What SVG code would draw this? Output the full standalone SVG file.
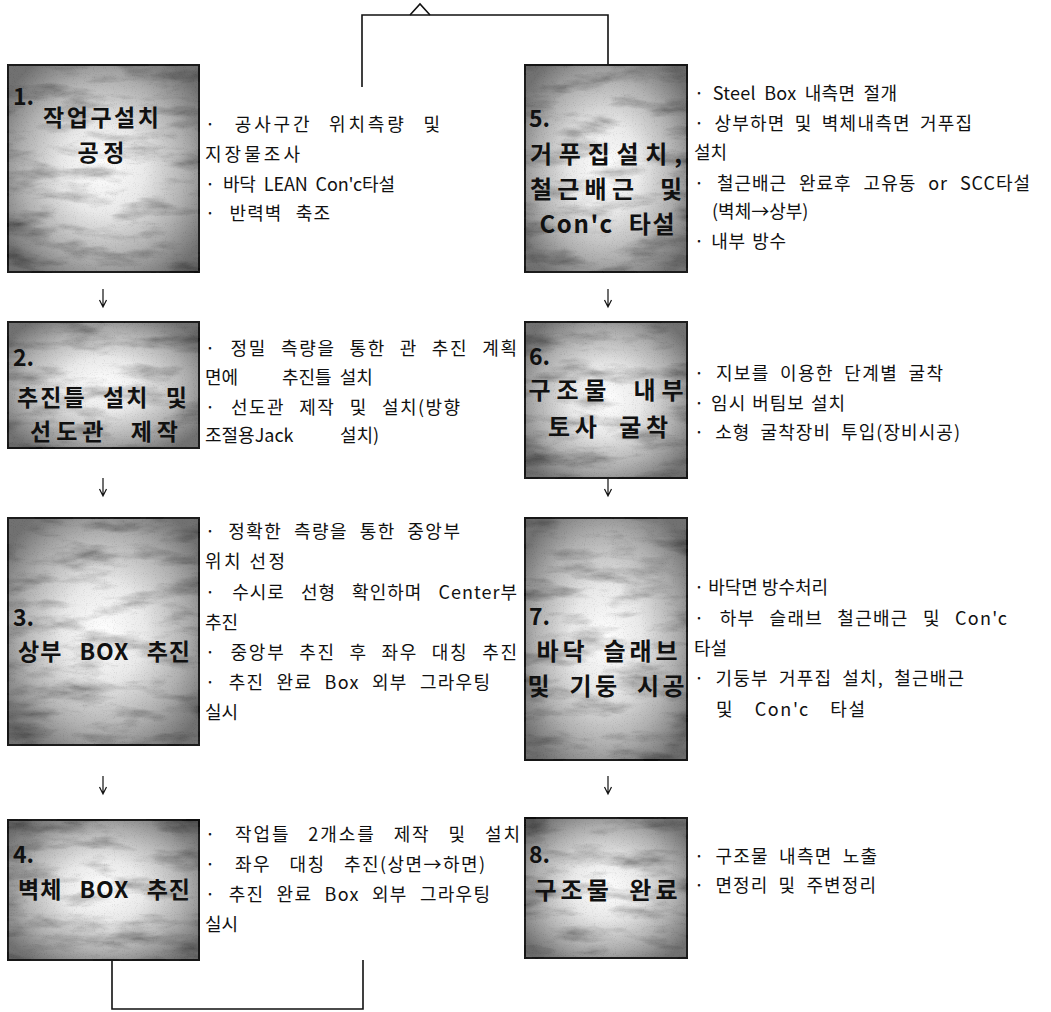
<svg xmlns="http://www.w3.org/2000/svg" width="1051" height="1012" viewBox="0 0 1051 1012">
<style>
.box{stroke:#1a1a1a;stroke-width:2;fill:url(#rg);filter:url(#tex)}
.num{font-family:"Noto Sans CJK KR","Noto Sans",sans-serif;font-weight:700;font-size:23px;fill:#111}
.ttl{font-family:"Noto Sans CJK KR","Noto Sans",sans-serif;font-weight:700;font-size:23px;fill:#111;text-anchor:middle}
.ttr{font-family:"Noto Sans CJK KR","Noto Sans",sans-serif;font-weight:700;font-size:24px;fill:#111;text-anchor:middle}
.bl{font-family:"Noto Sans CJK KR","Liberation Sans",sans-serif;font-size:18px;fill:#111}
.ln{stroke:#111;stroke-width:1.6;fill:none}
.ar{stroke:#111;stroke-width:1.2;fill:none}
</style>
<defs>
<radialGradient id="rg" cx="50%" cy="50%" r="62%">
<stop offset="0" stop-color="#ffffff"/>
<stop offset="0.35" stop-color="#e9e9e9"/>
<stop offset="0.7" stop-color="#b0b0b0"/>
<stop offset="1" stop-color="#717171"/>
</radialGradient>
<filter id="tex" x="-2%" y="-2%" width="104%" height="104%">
<feTurbulence type="fractalNoise" baseFrequency="0.018 0.06" numOctaves="5" seed="7" result="n"/>
<feColorMatrix in="n" type="matrix" values="1.5 0 0 0 0.2  1.5 0 0 0 0.2  1.5 0 0 0 0.2  0 0 0 0 1" result="g"/>
<feTurbulence type="fractalNoise" baseFrequency="0.9" numOctaves="1" seed="3" result="n2"/>
<feColorMatrix in="n2" type="matrix" values="0.7 0 0 0 0.68  0.7 0 0 0 0.68  0.7 0 0 0 0.68  0 0 0 0 1" result="g2"/>
<feBlend in="SourceGraphic" in2="g" mode="multiply" result="m"/>
<feBlend in="m" in2="g2" mode="multiply" result="m2"/>
<feComposite in="m2" in2="SourceGraphic" operator="in"/>
</filter>
</defs>

<g id="connectors">
<path class="ln" d="M362,87 V15 H608 V65"/>
<path class="ln" d="M410,15 L420,4 L430,15" fill="#fff"/>
<path class="ln" d="M112,960 V1009 H363 V960"/>
<path class="ar" d="M103,289 V306 M99.5,300 L103,307 L106.5,300"/>
<path class="ar" d="M103,478 V495 M99.5,489 L103,496 L106.5,489"/>
<path class="ar" d="M103,776 V793 M99.5,787 L103,794 L106.5,787"/>
<path class="ar" d="M608,289 V306 M604.5,300 L608,307 L611.5,300"/>
<path class="ar" d="M608,478 V495 M604.5,489 L608,496 L611.5,489"/>
<path class="ar" d="M608,776 V793 M604.5,787 L608,794 L611.5,787"/>
</g>

<g id="node1">
<rect class="box" x="8" y="65" width="191" height="207"/>
<text class="num" x="13" y="105">1.</text>
<text class="ttl" x="101" y="126" textLength="116">작업구설치</text>
<text class="ttl" x="101" y="161" textLength="47">공정</text>
<text class="bl" x="205" y="131" style="word-spacing:10px" textLength="235">· 공사구간 위치측량 및</text>
<text class="bl" x="205" y="161" textLength="95">지장물조사</text>
<text class="bl" x="205" y="191" style="word-spacing:4px" textLength="190">· 바닥 LEAN Con'c타설</text>
<text class="bl" x="205" y="220" style="word-spacing:8px" textLength="125">· 반력벽 축조</text>
</g>

<g id="node2">
<rect class="box" x="8" y="322" width="191" height="126"/>
<text class="num" x="13" y="366">2.</text>
<text class="ttl" x="102" y="406" style="word-spacing:9px" textLength="170">추진틀 설치 및</text>
<text class="ttl" x="104" y="440" style="word-spacing:12px" textLength="148">선도관 제작</text>
<text class="bl" x="205" y="355" style="word-spacing:8px" textLength="312">· 정밀 측량을 통한 관 추진 계획</text>
<text class="bl" y="384"><tspan x="205">면에</tspan><tspan x="282" style="word-spacing:4px">추진틀 설치</tspan></text>
<text class="bl" x="205" y="414" style="word-spacing:9px" textLength="255">· 선도관 제작 및 설치(방향</text>
<text class="bl" y="442"><tspan x="205">조절용Jack</tspan><tspan x="340">설치)</tspan></text>
</g>

<g id="node3">
<rect class="box" x="8" y="518" width="191" height="227"/>
<text class="num" x="13" y="626">3.</text>
<text class="ttl" x="104" y="660" style="word-spacing:11px" textLength="172">상부 BOX 추진</text>
<text class="bl" x="205" y="538" style="word-spacing:6px" textLength="255">· 정확한 측량을 통한 중앙부</text>
<text class="bl" x="205" y="568" textLength="80">위치 선정</text>
<text class="bl" x="205" y="599" style="word-spacing:11px" textLength="312">· 수시로 선형 확인하며 Center부</text>
<text class="bl" x="205" y="629">추진</text>
<text class="bl" x="205" y="659" style="word-spacing:8px" textLength="312">· 중앙부 추진 후 좌우 대칭 추진</text>
<text class="bl" x="205" y="689" style="word-spacing:7px" textLength="285">· 추진 완료 Box 외부 그라우팅</text>
<text class="bl" x="205" y="719">실시</text>
</g>

<g id="node4">
<rect class="box" x="8" y="820" width="191" height="140"/>
<text class="num" x="13" y="863">4.</text>
<text class="ttl" x="104" y="898" style="word-spacing:11px" textLength="172">벽체 BOX 추진</text>
<text class="bl" x="205" y="841" style="word-spacing:12px" textLength="315">· 작업틀 2개소를 제작 및 설치</text>
<text class="bl" x="205" y="871" style="word-spacing:13px" textLength="280">· 좌우 대칭 추진(상면→하면)</text>
<text class="bl" x="205" y="901" style="word-spacing:7px" textLength="285">· 추진 완료 Box 외부 그라우팅</text>
<text class="bl" x="205" y="931">실시</text>
</g>

<g id="node5">
<rect class="box" x="525" y="65" width="162" height="207"/>
<text class="num" x="529" y="127">5.</text>
<text class="ttr" x="606" y="163" textLength="152">거푸집설치,</text>
<text class="ttr" x="606" y="198" style="word-spacing:10px" textLength="152">철근배근 및</text>
<text class="ttr" x="607" y="233" style="word-spacing:8px" textLength="135">Con'c 타설</text>
<text class="bl" x="694" y="100" style="word-spacing:4px" textLength="203">· Steel Box 내측면 절개</text>
<text class="bl" x="694" y="130" style="word-spacing:4px" textLength="278">· 상부하면 및 벽체내측면 거푸집</text>
<text class="bl" x="694" y="159">설치</text>
<text class="bl" x="694" y="190" style="word-spacing:7px" textLength="336">· 철근배근 완료후 고유동 or SCC타설</text>
<text class="bl" x="712" y="218">(벽체→상부)</text>
<text class="bl" x="694" y="248" style="word-spacing:2px" textLength="92">· 내부 방수</text>
</g>

<g id="node6">
<rect class="box" x="525" y="322" width="162" height="156"/>
<text class="num" x="529" y="365">6.</text>
<text class="ttr" x="606" y="399" style="word-spacing:10px" textLength="155">구조물 내부</text>
<text class="ttr" x="608" y="436" style="word-spacing:8px" textLength="120">토사 굴착</text>
<text class="bl" x="694" y="380" style="word-spacing:5px" textLength="249">· 지보를 이용한 단계별 굴착</text>
<text class="bl" x="694" y="410" style="word-spacing:1px" textLength="151">· 임시 버팀보 설치</text>
<text class="bl" x="694" y="439" style="word-spacing:5px" textLength="266">· 소형 굴착장비 투입(장비시공)</text>
</g>

<g id="node7">
<rect class="box" x="525" y="518" width="162" height="242"/>
<text class="num" x="529" y="625">7.</text>
<text class="ttr" x="607" y="660" style="word-spacing:6px" textLength="141">바닥 슬래브</text>
<text class="ttr" x="606" y="695" style="word-spacing:8px" textLength="157">및 기둥 시공</text>
<text class="bl" x="694" y="594">· 바닥면 방수처리</text>
<text class="bl" x="694" y="625" style="word-spacing:9px" textLength="313">· 하부 슬래브 철근배근 및 Con'c</text>
<text class="bl" x="694" y="655">타설</text>
<text class="bl" x="694" y="685" style="word-spacing:5px" textLength="270">· 기둥부 거푸집 설치, 철근배근</text>
<text class="bl" x="716" y="716" style="word-spacing:15px" textLength="149">및 Con'c 타설</text>
</g>

<g id="node8">
<rect class="box" x="525" y="818" width="162" height="140"/>
<text class="num" x="529" y="863">8.</text>
<text class="ttr" x="606" y="899" style="word-spacing:7px" textLength="143">구조물 완료</text>
<text class="bl" x="694" y="863" style="word-spacing:5px" textLength="183">· 구조물 내측면 노출</text>
<text class="bl" x="694" y="892" style="word-spacing:5px" textLength="182">· 면정리 및 주변정리</text>
</g>
</svg>
